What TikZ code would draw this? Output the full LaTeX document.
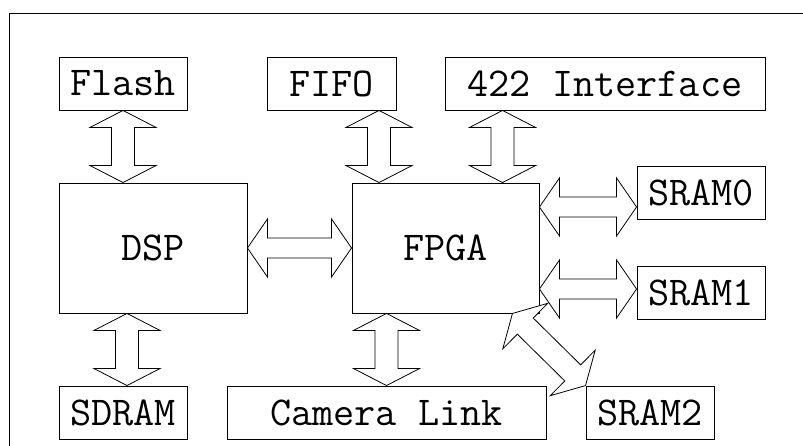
\documentclass[tikz,border=0pt]{standalone}
\usepackage{fontspec}
\usetikzlibrary{calc}

\tikzset{
  blk/.style = {draw, line width=0.9pt, inner sep=0pt, minimum height=53pt,
                font=\ttfamily\fontsize{41}{41}\selectfont},
  bus/.style = {draw, fill=white, line width=0.8pt, line join=miter}
}

% hollow double arrow: [head length/head half width/shaft half width]{from}{to}
\newcommand{\biarrow}[3][17pt/33pt/11.5pt]{%
  \foreach \headlen/\headw/\shaftw in {#1} {
    \draw[bus] (#2)
      -- ($(#2)!\headlen!(#3)!\headw!90:(#3)$)
      -- ($(#2)!\headlen!(#3)!\shaftw!90:(#3)$)
      -- ($(#3)!\headlen!(#2)!\shaftw!-90:(#2)$)
      -- ($(#3)!\headlen!(#2)!\headw!-90:(#2)$)
      -- (#3)
      -- ($(#3)!\headlen!(#2)!\headw!90:(#2)$)
      -- ($(#3)!\headlen!(#2)!\shaftw!90:(#2)$)
      -- ($(#2)!\headlen!(#3)!\shaftw!-90:(#3)$)
      -- ($(#2)!\headlen!(#3)!\headw!-90:(#3)$)
      -- cycle;
  }%
}

\begin{document}
\begin{tikzpicture}[x=1pt, y=-1pt]
  \useasboundingbox (0,0) rectangle (803,446);
  \draw[line width=0.9pt] (9,13) rectangle (815,460);

  % blocks
  \node[blk, minimum width=128pt] at (123,83.5) (flash) {Flash};
  \node[blk, minimum width=129pt] at (331.5,83.5) (fifo) {FIFO};
  \node[blk, minimum width=320pt] at (605,83.5) (iface) {422 Interface};
  \node[blk, minimum width=188pt, minimum height=130pt] at (153,248) (dsp) {DSP};
  \node[blk, minimum width=187pt, minimum height=130pt] at (445.5,248) (fpga) {FPGA};
  \node[blk, minimum width=128pt] at (701,192.5) (sram0) {SRAM0};
  \node[blk, minimum width=128pt] at (701,292.5) (sram1) {SRAM1};
  \node[blk, minimum width=128pt] at (123,412.5) (sdram) {SDRAM};
  \node[blk, minimum width=319pt] at (386.5,412.5) (camera) {Camera Link};
  \node[blk, minimum width=128pt] at (650,412.5) (sram2) {SRAM2};

  % arrow ends
  \coordinate (fl) at (flash.south);
  \coordinate (ds1) at (flash.south |- dsp.north);
  \coordinate (ff) at ($(fifo.south)+(47.5,0)$);
  \coordinate (fp1) at (ff |- fpga.north);
  \coordinate (ifc) at ($(iface.south west)+(58,0)$);
  \coordinate (fp2) at (ifc |- fpga.north);
  \coordinate (sd) at ($(sdram.north)+(4,0)$);
  \coordinate (ds2) at (sd |- dsp.south);
  \coordinate (cl) at (camera.north);
  \coordinate (fp3) at (cl |- fpga.south);
  \coordinate (s0) at ($(sram0.west)+(0,14.5)$);
  \coordinate (fp4) at (fpga.east |- s0);
  \coordinate (s1) at ($(sram1.west)+(0,-3.5)$);
  \coordinate (fp5) at (fpga.east |- s1);
  \coordinate (fp6) at ($(fpga.south east)+(-27,0)$);

  % buses
  \biarrow{fl}{ds1}
  \biarrow{ff}{fp1}
  \biarrow{ifc}{fp2}
  \biarrow{ds2}{sd}
  \biarrow{fp3}{cl}
  \biarrow[20pt/29pt/10pt]{dsp.east}{fpga.west}
  \biarrow[20pt/29pt/10pt]{fp4}{s0}
  \biarrow[20pt/29pt/10pt]{fp5}{s1}
  \biarrow[18pt/32pt/11.3pt]{fp6}{sram2.north west}
\end{tikzpicture}
\end{document}
